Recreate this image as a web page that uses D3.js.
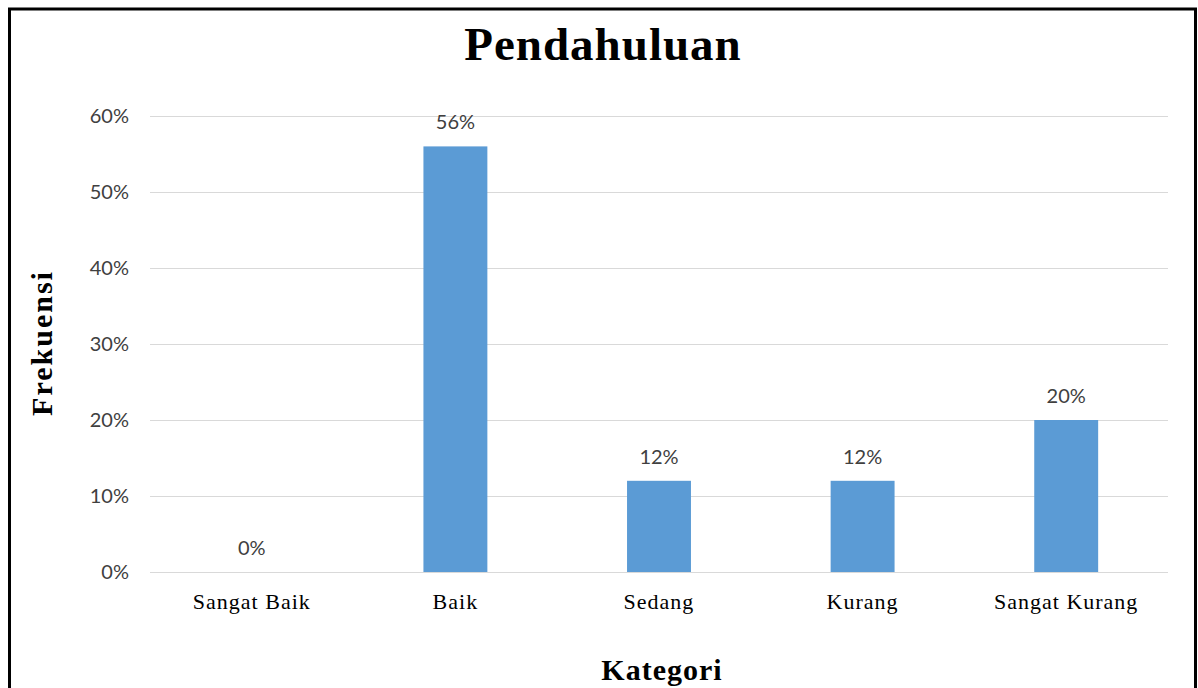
<!DOCTYPE html>
<html>
    <head>
        <meta charset="utf-8">
        <title>Pendahuluan</title>
        <style>
body {
    margin: 0;
    background-color: white;
}

svg {
    display: block;
}

.grid line {
    stroke: #d9d9d9;
    stroke-width: 1;
}

.tick-label, .value-label {
    font-family: Lato, "Open Sans", sans-serif;
    font-size: 20px;
    fill: #404040;
}

.cat-label {
    font-family: "Liberation Serif", "Times New Roman", serif;
    font-size: 22px;
    letter-spacing: 1px;
    fill: #000;
}

.title, .axis-title {
    font-family: "Liberation Serif", "Times New Roman", serif;
    font-weight: bold;
    fill: #000;
}
</style>
        <script src="https://cdn.jsdelivr.net/npm/d3@7"></script>
    </head>
    <body>
        <script>
var categories = ["Sangat Baik", "Baik", "Sedang", "Kurang", "Sangat Kurang"];
var values = [0, 0.56, 0.12, 0.12, 0.20];
var yTicks = [0, 0.1, 0.2, 0.3, 0.4, 0.5, 0.6];

var width = 1198,
    height = 688;

var svg = d3.select('body')
    .append('svg')
    .attr('width', width)
    .attr('height', height);

// outer frame
svg.append("rect")
    .attr("x", 9.5)
    .attr("y", 9)
    .attr("width", 1186)
    .attr("height", 690)
    .attr("fill", "white")
    .attr("stroke", "black")
    .attr("stroke-width", 3);

var plotLeft = 150, plotRight = 1168,
    plotTop = 116, plotBottom = 572;

var x = d3.scaleBand()
    .domain(categories)
    .range([plotLeft, plotRight])
    .paddingInner(0.686)
    .paddingOuter(0.343);

var y = d3.scaleLinear()
    .domain([0, 0.6])
    .range([plotBottom, plotTop]);

var fmt = d3.format(".0%");

// gridlines
svg.append("g")
    .attr("class", "grid")
    .selectAll("line")
    .data(yTicks)
    .enter()
    .append("line")
    .attr("x1", plotLeft)
    .attr("x2", plotRight)
    .attr("y1", function (d) { return Math.round(y(d)) + 0.5; })
    .attr("y2", function (d) { return Math.round(y(d)) + 0.5; });

// y tick labels
svg.append("g")
    .selectAll("text")
    .data(yTicks)
    .enter()
    .append("text")
    .attr("class", "tick-label")
    .attr("x", 129)
    .attr("y", function (d) { return y(d); })
    .attr("dy", "0.35em")
    .attr("text-anchor", "end")
    .text(fmt);

// bars
svg.append("g")
    .selectAll("rect")
    .data(values)
    .enter()
    .append("rect")
    .attr("x", function (d, i) { return x(categories[i]); })
    .attr("y", function (d) { return y(d); })
    .attr("width", x.bandwidth())
    .attr("height", function (d) { return y(0) - y(d); })
    .attr("fill", "#5b9bd5");

// value labels
svg.append("g")
    .selectAll("text")
    .data(values)
    .enter()
    .append("text")
    .attr("class", "value-label")
    .attr("x", function (d, i) { return x(categories[i]) + x.bandwidth() / 2; })
    .attr("y", function (d) { return y(d) - 17; })
    .attr("text-anchor", "middle")
    .text(fmt);

// category labels
svg.append("g")
    .selectAll("text")
    .data(categories)
    .enter()
    .append("text")
    .attr("class", "cat-label")
    .attr("x", function (d) { return x(d) + x.bandwidth() / 2; })
    .attr("y", 609)
    .attr("text-anchor", "middle")
    .text(function (d) { return d; });

svg.append("text")
    .attr("class", "title")
    .attr("x", 603)
    .attr("y", 60)
    .attr("text-anchor", "middle")
    .style("font-size", "47px")
    .style("letter-spacing", "1px")
    .text("Pendahuluan");

svg.append("text")
    .attr("class", "axis-title")
    .attr("x", 662)
    .attr("y", 680)
    .attr("text-anchor", "middle")
    .style("font-size", "30px")
    .style("letter-spacing", "1px")
    .text("Kategori");

svg.append("text")
    .attr("class", "axis-title")
    .attr("transform", "translate(52,343) rotate(-90)")
    .attr("text-anchor", "middle")
    .style("font-size", "30px")
    .style("letter-spacing", "2px")
    .text("Frekuensi");

        </script>
    </body>
</html>
